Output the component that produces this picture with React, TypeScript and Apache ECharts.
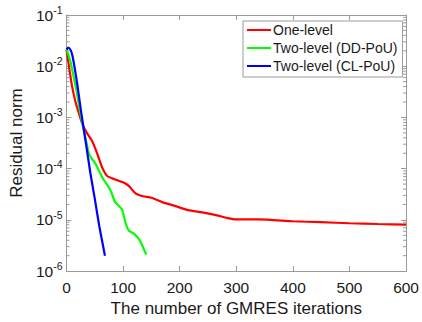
import React, { useEffect, useRef } from "react";
import * as echarts from "echarts";

const seriesNames = ["One-level", "Two-level (DD-PoU)", "Two-level (CL-PoU)"];
const seriesColors = ["#ff0000", "#00ff00", "#0000ff"];

const oneLevelX = [0, 2, 5, 10, 16, 22, 28, 36, 45, 52, 58, 64, 72, 85, 100, 110, 122, 135, 150, 170, 190, 215, 240, 270, 285, 300, 340, 400, 450, 500, 550, 600];
const oneLevelY = [0.021, 0.015, 0.009, 0.004, 0.002, 0.0012, 7.5e-4, 5e-4, 3.5e-4, 2.3e-4, 1.5e-4, 1e-4, 7.2e-5, 6.2e-5, 5.4e-5, 4.6e-5, 3.3e-5, 2.9e-5, 2.7e-5, 2.2e-5, 1.9e-5, 1.55e-5, 1.4e-5, 1.2e-5, 1.08e-5, 1.02e-5, 1.02e-5, 9.4e-6, 9e-6, 8.6e-6, 8.3e-6, 8.1e-6];

const ddX = [0, 4, 8, 13, 18, 24, 30, 36, 40, 46, 52, 60, 66, 74, 80, 85, 92, 98, 104, 110, 118, 126, 132, 141];
const ddY = [0.021, 0.016, 0.011, 0.006, 0.0032, 0.0013, 6e-4, 3e-4, 1.9e-4, 1.5e-4, 1.2e-4, 8e-5, 6e-5, 4.5e-5, 3.3e-5, 2.3e-5, 1.9e-5, 1.6e-5, 9e-6, 6.2e-6, 5.5e-6, 4.5e-6, 3.5e-6, 2.1e-6];

const clX = [0, 3, 7, 10, 14, 19, 24, 28, 35, 42, 50, 58, 68];
const clY = [0.021, 0.023, 0.021, 0.017, 0.01, 0.0045, 0.0018, 9e-4, 2.8e-4, 8.5e-5, 2.6e-5, 7.5e-6, 2e-6];

const xTicks = [0, 100, 200, 300, 400, 500, 600];
const yMin = 1e-6;
const yMax = 1e-1;

const FONT = "'Liberation Sans', Arial, Helvetica, sans-serif";
const AXIS_COLOR = "#9a9a9a";

function zip(xs: number[], ys: number[]) {
  return xs.map((x, i) => [x, ys[i]]);
}

export default function App() {
  const ref = useRef<HTMLDivElement>(null);
  useEffect(() => {
    if (!ref.current) return;
    const chart = echarts.init(ref.current, null, { renderer: "svg" });
    const minorVals: number[][] = [];
    for (let k = -6; k <= -2; k++) {
      for (let m = 2; m <= 9; m++) minorVals.push([0, m * Math.pow(10, k)]);
    }
    const datasets = [zip(oneLevelX, oneLevelY), zip(ddX, ddY), zip(clX, clY)];
    const xMax = xTicks[xTicks.length - 1];
    const commonX = {
      type: "value",
      min: xTicks[0],
      max: xMax,
      interval: 100,
      splitLine: { show: false },
      axisLine: { show: true, onZero: false, lineStyle: { color: AXIS_COLOR, width: 1 } },
      axisTick: { show: true, inside: true, length: 5, lineStyle: { color: AXIS_COLOR } },
    };
    const commonY = {
      type: "log",
      logBase: 10,
      min: yMin,
      max: yMax,
      splitLine: { show: false },
      axisLine: { show: true, onZero: false, lineStyle: { color: AXIS_COLOR, width: 1 } },
      axisTick: { show: true, inside: true, length: 5, lineStyle: { color: AXIS_COLOR } },
    };
    chart.setOption({
      animation: false,
      textStyle: { fontFamily: FONT },
      grid: { left: 66, right: 13, top: 15, bottom: 45 },
      xAxis: [
        {
          ...commonX,
          position: "bottom",
          name: "The number of GMRES iterations",
          nameLocation: "middle",
          nameGap: 25,
          nameTextStyle: { fontSize: 17, color: "#1a1a1a", fontFamily: FONT },
          axisLabel: { fontSize: 15.5, color: "#1a1a1a", margin: 8, fontFamily: FONT },
        },
        {
          ...commonX,
          position: "top",
          axisLabel: { show: false },
        },
      ],
      yAxis: [
        {
          ...commonY,
          position: "left",
          name: "Residual norm",
          nameLocation: "middle",
          nameGap: 38,
          nameTextStyle: { fontSize: 17, color: "#1a1a1a", fontFamily: FONT },
          axisLabel: {
            margin: 4,
            color: "#1a1a1a",
            formatter: (v: number) => `{b|10}{s|${Math.round(Math.log10(v))}}`,
            rich: {
              b: { fontSize: 15.5, color: "#1a1a1a", fontFamily: FONT },
              s: { fontSize: 10.5, color: "#1a1a1a", fontFamily: FONT, padding: [0, 0, 10, 0] },
            },
          },
        },
        {
          ...commonY,
          position: "right",
          axisLabel: { show: false },
        },
      ],
      legend: {
        show: true,
        orient: "vertical",
        left: 243,
        top: 21,
        padding: [2, 5, 4, 4],
        itemGap: 4,
        itemWidth: 24,
        itemHeight: 2,
        icon: "rect",
        backgroundColor: "#ffffff",
        borderColor: AXIS_COLOR,
        borderWidth: 1,
        borderRadius: 0,
        textStyle: { fontSize: 14, color: "#1a1a1a", fontFamily: FONT, padding: [0, 0, 0, -3] },
        data: seriesNames,
      },
      series: [
        ...seriesNames.map((name, i) => ({
          type: "line",
          name,
          data: datasets[i],
          showSymbol: false,
          symbol: "none",
          smooth: 0.2,
          lineStyle: { color: seriesColors[i], width: 2.2 },
          itemStyle: { color: seriesColors[i] },
          xAxisIndex: 0,
          yAxisIndex: 0,
          z: 3 + i,
        })),
        {
          type: "custom",
          name: "minorTicks",
          xAxisIndex: 0,
          yAxisIndex: 0,
          silent: true,
          clip: false,
          data: minorVals,
          renderItem: (params: any, api: any) => {
            const v = api.value(1);
            const p0 = api.coord([0, v]);
            const p1 = api.coord([xMax, v]);
            return {
              type: "group",
              children: [
                { type: "line", shape: { x1: p0[0], y1: p0[1], x2: p0[0] + 3, y2: p0[1] }, style: { stroke: AXIS_COLOR, lineWidth: 1 } },
                { type: "line", shape: { x1: p1[0], y1: p1[1], x2: p1[0] - 3, y2: p1[1] }, style: { stroke: AXIS_COLOR, lineWidth: 1 } },
              ],
            };
          },
        },
      ],
    });
    return () => chart.dispose();
  }, []);
  return <div ref={ref} style={{ position: "fixed", left: 0, top: 0, width: 422, height: 322, background: "#fff" }} />;
}
